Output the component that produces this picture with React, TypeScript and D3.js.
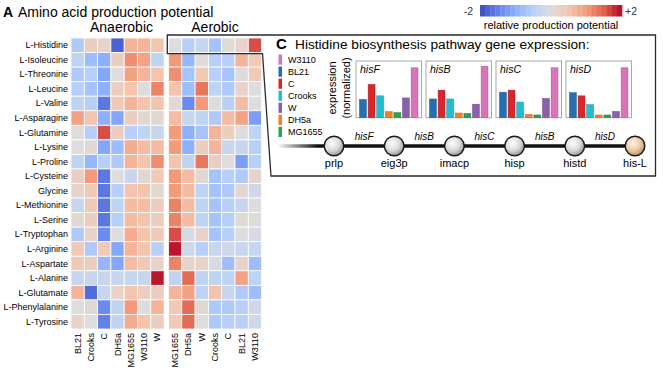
import React from "react";
import * as d3 from "d3";

const aminoAcids = ["L-Histidine","L-Isoleucine","L-Threonine","L-Leucine","L-Valine","L-Asparagine","L-Glutamine","L-Lysine","L-Proline","L-Cysteine","Glycine","L-Methionine","L-Serine","L-Tryptophan","L-Arginine","L-Aspartate","L-Alanine","L-Glutamate","L-Phenylalanine","L-Tyrosine"];
const anaerobicStrains = ["BL21","Crooks","C","DH5a","MG1655","W3110","W"];
const aerobicStrains = ["MG1655","DH5a","W","Crooks","C","BL21","W3110"];

const anaerobicValues = [
  [-0.6, 0.3, 0.2, -1.8, 0.7, 0.7, 0.5],
  [-0.4, -0.8, -1.0, 0.3, 1.1, 0.9, -0.4],
  [-0.6, -0.5, -1.1, 0.0, 0.9, 0.7, 0.5],
  [-0.5, -0.7, -1.0, 0.3, 0.5, 0.0, 1.2],
  [-0.4, -0.5, -1.6, 0.4, 0.7, 0.5, 0.5],
  [0.9, 0.5, -1.0, -1.1, 0.3, 0.1, 0.1],
  [0.0, -0.5, 1.6, 0.3, -0.5, -0.4, -0.3],
  [0.0, 0.1, -1.1, -0.8, 0.8, 0.6, 0.6],
  [-0.4, -0.9, -0.5, -0.6, 0.7, 0.5, 1.1],
  [0.3, 1.0, -1.6, 0.0, -0.3, 0.1, 0.4],
  [0.2, 0.4, -1.6, -0.5, 0.5, 0.5, 0.1],
  [-0.3, 0.4, -1.6, -0.4, 0.6, 0.6, 0.3],
  [0.1, 0.3, -1.6, -0.5, 0.6, 0.5, 0.3],
  [-0.6, 0.2, -1.4, 0.0, 0.8, 0.5, 0.4],
  [0.4, -0.6, 0.4, -1.1, 0.7, 0.5, -0.5],
  [0.4, 0.3, -0.9, -1.1, 0.6, 0.4, 0.2],
  [-0.3, -0.3, -0.3, -0.3, -0.3, -0.3, 1.9],
  [0.7, -1.7, -0.3, 0.2, 0.5, 0.3, 0.3],
  [0.0, 0.1, -1.4, -0.4, 1.0, 0.0, 0.7],
  [0.2, 0.0, -1.5, -0.4, 0.8, 0.5, 0.3],
];

const aerobicValues = [
  [0.0, -0.5, -0.3, -0.7, 0.05, 0.2, 1.6],
  [1.0, -0.9, 0.05, -0.5, -0.5, 0.7, 0.4],
  [1.1, -0.7, 0.4, -0.5, -0.7, 0.05, 0.4],
  [0.5, -0.8, 1.3, -0.4, -0.6, 0.2, 0.0],
  [0.1, -1.4, 1.0, 0.0, -0.5, 0.6, 0.0],
  [0.6, -0.3, -0.4, -0.6, 0.6, 0.9, -1.2],
  [1.0, -1.0, -0.7, 0.7, 0.3, 0.0, -0.4],
  [1.0, -1.0, 0.3, 0.7, -0.3, -0.3, -0.5],
  [0.5, -0.4, 1.3, 0.3, 0.0, -1.2, -0.5],
  [1.0, 0.6, 0.1, -0.7, -0.5, -0.6, 0.2],
  [1.0, 0.6, -0.4, -0.7, -0.6, 0.1, -0.2],
  [1.2, 0.6, -0.4, -0.7, -0.5, -0.3, 0.0],
  [1.2, 0.6, -0.4, -0.7, -0.5, 0.05, 0.05],
  [1.6, -0.1, 0.2, -0.7, -0.5, 0.0, -0.1],
  [1.9, -0.2, -0.5, -0.3, -0.2, -0.3, -0.3],
  [1.2, 0.2, 0.2, -0.1, -0.8, 0.2, -0.8],
  [-0.4, 1.4, -0.4, -0.4, -0.4, 0.9, -0.4],
  [0.7, 0.9, -0.4, 0.5, -0.3, -0.6, -0.8],
  [0.4, 1.4, 0.1, -0.6, -0.6, -0.5, -0.2],
  [0.4, 1.4, 0.0, -0.6, -0.5, -0.5, -0.2],
];

const colorTicks = ["-2", "+2"];

const barStrains = ["BL21","C","Crooks","DH5a","MG1655","W","W3110"];
const legendOrder = ["W3110","BL21","C","Crooks","W","DH5a","MG1655"];
const strainColors = ["#2470b1","#d8262c","#22bccf","#f3812a","#2ca24a","#8b5fad","#d974b9"];
const genes = ["hisF","hisB","hisC","hisD"];
const expression = [
  [0.35, 0.64, 0.42, 0.115, 0.096, 0.38, 0.96],
  [0.36, 0.53, 0.36, 0.09, 0.083, 0.26, 0.99],
  [0.49, 0.53, 0.30, 0.063, 0.052, 0.37, 0.96],
  [0.48, 0.42, 0.25, 0.052, 0.052, 0.12, 0.96],
];

const metabolites = ["prlp","eig3p","imacp","hisp","histd","his-L"];
const enzymes = ["hisF","hisB","hisC","hisB","hisD"];

const FONT = "'Liberation Sans', Arial, sans-serif";

const coolwarm = d3.scaleLinear<string>()
  .domain(d3.range(9).map(i => -2 + i * 0.5))
  .range(["#3b4cc0","#6282ea","#8db0fe","#b8d0f9","#dddddd","#f5c4ad","#f49a7b","#de604d","#b40426"])
  .interpolate(d3.interpolateRgb)
  .clamp(true);

export default function App() {
  const rowY = d3.scaleBand<string>().domain(aminoAcids).range([38, 329]);
  const anaX = d3.scaleBand<string>().domain(anaerobicStrains).range([71, 164.1]);
  const aerX = d3.scaleBand<string>().domain(aerobicStrains).range([168.5, 261.6]);
  const cw = anaX.bandwidth();
  const rh = rowY.bandwidth();

  const legX = d3.scaleLinear().domain([-2, 2]).range([480, 622]);
  const nStripes = 28;
  const stripes = d3.range(nStripes).map(i => -2 + (i + 0.5) * 4 / nStripes);

  const panelX = d3.scaleBand<string>().domain(genes).range([356, 631.5]).paddingInner(0.064);
  const barY = d3.scaleLinear().domain([0, 1]).range([117.7, 65.7]);
  const pathX = d3.scalePoint<string>().domain(metabolites).range([334, 635]);
  const legY = d3.scaleBand<string>().domain(legendOrder).range([54.5, 137]).paddingInner(0.15);

  const cellGroup = (strains: string[], xs: d3.ScaleBand<string>, vals: number[][], key: string) =>
    aminoAcids.map((aa, r) =>
      strains.map((s, c) => (
        <rect key={key + r + "-" + c} x={xs(s)} y={rowY(aa)} width={cw} height={rh}
          fill={coolwarm(vals[r][c])} stroke="#ffffff" strokeWidth={0.8} />
      ))
    );

  const hy0 = (rowY(aminoAcids[0]) as number) - 3;
  const hy1 = (rowY(aminoAcids[0]) as number) + rh + 1;
  const boxPts = [[167.3, hy0],[655.5, hy0],[655.5, 176],[271, 176],[262.5, hy1],[167.3, hy1]];

  return (
    <svg width={663} height={370} style={{ position: "absolute", left: 0, top: 0, background: "#fff" }} fontFamily={FONT}>
      <defs>
        <linearGradient id="fade" gradientUnits="userSpaceOnUse" x1={277} x2={318} y1={0} y2={0}>
          <stop offset="0" stopColor="#ffffff" />
          <stop offset="1" stopColor="#111111" />
        </linearGradient>
        <radialGradient id="node" cx="0.4" cy="0.35" r="0.7">
          <stop offset="0" stopColor="#ffffff" />
          <stop offset="0.55" stopColor="#d9d9d9" />
          <stop offset="1" stopColor="#8c8c8c" />
        </radialGradient>
        <radialGradient id="nodeEnd" cx="0.4" cy="0.35" r="0.7">
          <stop offset="0" stopColor="#fff6ea" />
          <stop offset="0.55" stopColor="#e9cba4" />
          <stop offset="1" stopColor="#b98a55" />
        </radialGradient>
      </defs>

      {/* Panel A titles */}
      <text x={3} y={17} fontSize={14} fontWeight="bold">A</text>
      <text x={18} y={17} fontSize={14}>Amino acid production potential</text>
      <text x={121.5} y={32} fontSize={14} textAnchor="middle">Anaerobic</text>
      <text x={215} y={32} fontSize={14} textAnchor="middle">Aerobic</text>

      {/* heatmap */}
      {cellGroup(anaerobicStrains, anaX, anaerobicValues, "an")}
      {cellGroup(aerobicStrains, aerX, aerobicValues, "ae")}

      {aminoAcids.map(aa => (
        <text key={aa} x={68} y={(rowY(aa) as number) + rh / 2} fontSize={9} textAnchor="end" dominantBaseline="central">{aa}</text>
      ))}
      {anaerobicStrains.map(s => {
        const cx = (anaX(s) as number) + cw / 2;
        return <text key={"ca" + s} transform={`translate(${cx},333) rotate(-90)`} fontSize={9} textAnchor="end" dominantBaseline="central">{s}</text>;
      })}
      {aerobicStrains.map(s => {
        const cx = (aerX(s) as number) + cw / 2;
        return <text key={"cb" + s} transform={`translate(${cx},333) rotate(-90)`} fontSize={9} textAnchor="end" dominantBaseline="central">{s}</text>;
      })}

      {/* colour legend */}
      {stripes.map((v, i) => (
        <rect key={"st" + i} x={legX(-2) + i * (142 / nStripes)} y={5} width={142 / nStripes + 0.3} height={11.5} fill={coolwarm(v)} />
      ))}
      <text x={legX(-2) - 7} y={15} fontSize={10.5} textAnchor="end" fill="#333">{colorTicks[0]}</text>
      <text x={legX(2) + 3} y={15} fontSize={10.5} fill="#333">{colorTicks[1]}</text>
      <text x={551} y={28.5} fontSize={11} textAnchor="middle">relative production potential</text>

      {/* highlight + panel C box */}
      <polygon points={boxPts.map(p => p.join(",")).join(" ")} fill="none" stroke="#2a2a2a" strokeWidth={1.3} />

      {/* Panel C */}
      <text x={276} y={49} fontSize={15} fontWeight="bold">C</text>
      <text x={295} y={49} fontSize={13.7}>Histidine biosynthesis pathway gene expression:</text>

      {legendOrder.map(s => {
        const i = barStrains.indexOf(s);
        const y = legY(s) as number;
        return (
          <g key={"lg" + s}>
            <rect x={278.5} y={y} width={3.5} height={legY.bandwidth()} fill={strainColors[i]} />
            <text x={288} y={y + legY.bandwidth() / 2} fontSize={9} dominantBaseline="central">{s}</text>
          </g>
        );
      })}

      <text transform="translate(332,88) rotate(-90)" fontSize={11} textAnchor="middle" dominantBaseline="central">expression</text>
      <text transform="translate(345.5,88) rotate(-90)" fontSize={11} textAnchor="middle" dominantBaseline="central">(normalized)</text>

      {genes.map((g, gi) => {
        const px = panelX(g) as number;
        const pw = panelX.bandwidth();
        const bx = d3.scaleBand<string>().domain(barStrains).range([px + 1.8, px + pw - 1.8]).padding(0.2);
        return (
          <g key={"p" + g}>
            <rect x={px} y={61} width={pw} height={56.7} fill="#fff" stroke="#a9a9a9" strokeWidth={1} />
            <text x={px + 4} y={72.5} fontSize={10.5} fontStyle="italic">{g}</text>
            {barStrains.map((s, si) => (
              <rect key={s} x={bx(s)} y={barY(expression[gi][si])} width={bx.bandwidth()}
                height={barY(0) - barY(expression[gi][si])} fill={strainColors[si]}
                stroke={d3.color(strainColors[si])!.darker(0.7).toString()} strokeWidth={0.5} />
            ))}
          </g>
        );
      })}

      {/* pathway */}
      <line x1={277} x2={pathX("his-L")} y1={146} y2={146} stroke="url(#fade)" strokeWidth={3.6} />
      {enzymes.map((e, i) => {
        const x = ((pathX(metabolites[i]) as number) + (pathX(metabolites[i + 1]) as number)) / 2;
        return <text key={"e" + i} x={x} y={139.5} fontSize={10} fontStyle="italic" textAnchor="middle">{e}</text>;
      })}
      {metabolites.map((m, i) => (
        <g key={"m" + m}>
          <circle cx={pathX(m)} cy={146} r={9.8} fill={i === metabolites.length - 1 ? "url(#nodeEnd)" : "url(#node)"} stroke="#1a1a1a" strokeWidth={1.4} />
          <text x={pathX(m)} y={167} fontSize={11} textAnchor="middle">{m}</text>
        </g>
      ))}
    </svg>
  );
}
